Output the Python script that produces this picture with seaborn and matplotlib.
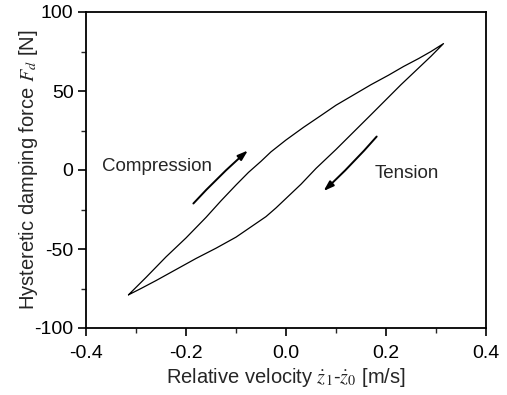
import matplotlib
matplotlib.use("Agg")
import matplotlib.pyplot as plt
from matplotlib.ticker import MultipleLocator
import seaborn as sns
import pandas as pd

# Upper branch (compression, going up from left tip to right tip)
upper_v = [-0.315, -0.28, -0.24, -0.20, -0.16, -0.13, -0.10, -0.075, -0.05, -0.03,
           0.00, 0.035, 0.07, 0.10, 0.135, 0.17, 0.205, 0.235, 0.265, 0.29, 0.315]
upper_f = [-79, -68, -55, -43, -30, -19.5, -9.5, -1.5, 5.5, 11.5,
           19, 27, 34.5, 41, 47.5, 54, 60, 65.5, 70.5, 75, 80]
# Lower branch (tension, going down from right tip to left tip)
lower_v = [0.315, 0.29, 0.26, 0.23, 0.20, 0.17, 0.135, 0.10, 0.06, 0.03, 0.00,
           -0.02, -0.04, -0.07, -0.10, -0.14, -0.18, -0.22, -0.26, -0.29, -0.315]
lower_f = [80, 72, 63, 54, 44.5, 35, 24, 13, 1, -9, -18,
           -24, -29.5, -36, -42.5, -49.5, -56, -63, -70, -75, -79]

sns.set_style("ticks")
plt.rcParams['font.family'] = ['Liberation Sans', 'DejaVu Sans']
plt.rcParams['mathtext.fontset'] = 'stix'

df = pd.DataFrame({
    "v": upper_v + lower_v,
    "f": upper_f + lower_f,
})

fig = plt.figure(figsize=(5.07, 3.95), dpi=100)
ax = fig.add_axes([86/507, (395-328)/395, 400/507, 316/395])

sns.lineplot(data=df, x="v", y="f", sort=False, estimator=None,
             color="black", linewidth=0.9, ax=ax)

ax.set_xlim(-0.4, 0.4)
ax.set_ylim(-100, 100)
ax.xaxis.set_minor_locator(MultipleLocator(0.1))
ax.yaxis.set_minor_locator(MultipleLocator(25))
ax.set_xticks([-0.4, -0.2, 0.0, 0.2, 0.4])
ax.set_xticklabels(["-0.4", "-0.2", "0.0", "0.2", "0.4"])
ax.set_yticks([-100, -50, 0, 50, 100])
ax.set_yticklabels(["-100", "-50", "0", "50", "100"])

ax.tick_params(axis="both", which="major", direction="out", length=6, width=1.2,
               labelsize=14, colors="black")
ax.tick_params(axis="x", which="major", pad=6)
ax.tick_params(axis="y", which="major", pad=3)
ax.tick_params(axis="both", which="minor", direction="out", length=3.5, width=1.0)
for s in ax.spines.values():
    s.set_visible(True)
    s.set_linewidth(1.3)
    s.set_color("black")

ax.set_xlabel(r"Relative velocity $\dot{z}_1$-$\dot{z}_0$ [m/s]", fontsize=14.5, labelpad=3)
ax.set_ylabel(r"Hysteretic damping force $F_d$ [N]", fontsize=14.5, labelpad=-4)

ax.text(-0.368, 2, "Compression", fontsize=13.5, ha="left", va="center")
ax.text(0.178, -2, "Tension", fontsize=13.5, ha="left", va="center")

ax.annotate("", xy=(-0.072, 13.5), xytext=(-0.189, -22.5),
            arrowprops=dict(arrowstyle="-|>,head_length=0.6,head_width=0.2",
                            color="black", lw=1.4,
                            connectionstyle="arc3,rad=-0.03"))
ax.annotate("", xy=(0.071, -14.5), xytext=(0.185, 22.5),
            arrowprops=dict(arrowstyle="-|>,head_length=0.6,head_width=0.2",
                            color="black", lw=1.4,
                            connectionstyle="arc3,rad=-0.03"))

fig.savefig("out.png", dpi=100)
